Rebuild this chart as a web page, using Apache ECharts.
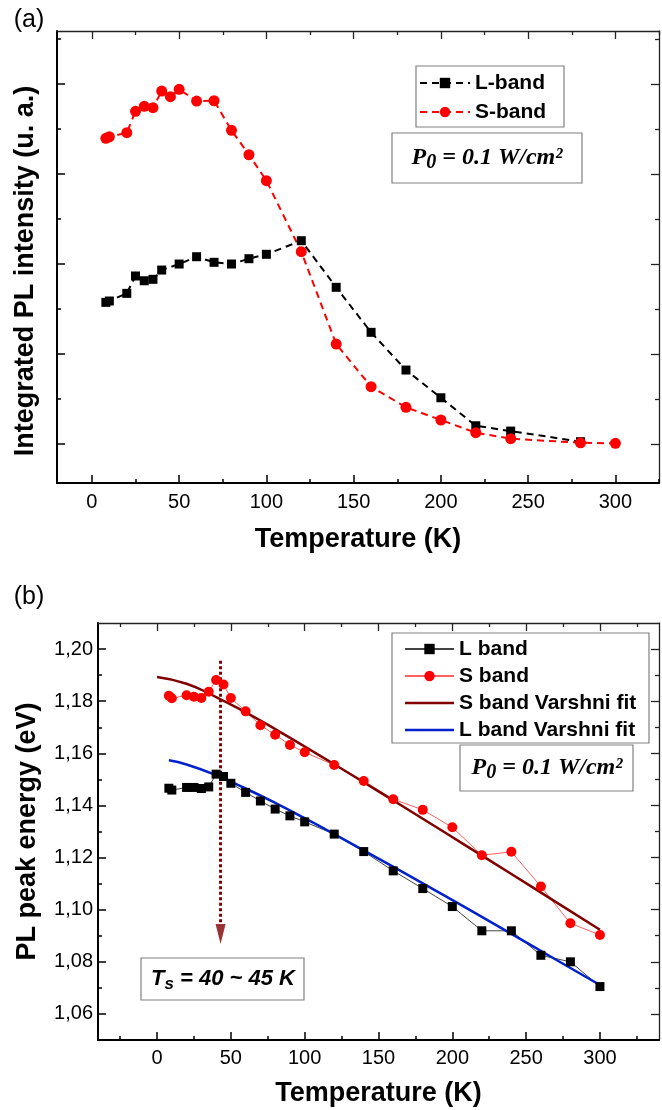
<!DOCTYPE html>
<html><head><meta charset="utf-8">
<script src="https://cdn.jsdelivr.net/npm/echarts@6/dist/echarts.min.js"></script>
<style>html,body{margin:0;padding:0;background:#fff}#c{width:662px;height:1110px}</style>
</head><body><div id="c"></div>
<script>
// ---------- (a) Integrated PL intensity ----------
const tempA_L = [8,10,20,25,30,35,40,50,60,70,80,90,100,120,140,160,180,200,220,240,280];
const intensL = [1.574,1.589,1.674,1.867,1.814,1.830,1.933,2.000,2.081,2.019,2.000,2.059,2.108,2.259,1.741,1.241,0.822,0.514,0.203,0.144,0.026];
const tempA_S = [8,10,20,25,30,35,40,45,50,60,70,80,90,100,120,140,160,180,200,220,240,280,300];
const intensS = [3.397,3.414,3.459,3.697,3.752,3.737,3.922,3.859,3.941,3.811,3.814,3.486,3.214,2.926,2.137,1.111,0.637,0.408,0.267,0.126,0.059,0.014,0.008];
// ---------- (b) PL peak energy ----------
const tempB = [8,10,20,25,30,35,40,45,50,60,70,80,90,100,120,140,160,180,200,220,240,260,280,300];
const energyL = [1.1466,1.1459,1.1469,1.1469,1.1465,1.1471,1.1520,1.1511,1.1485,1.1450,1.1417,1.1386,1.1360,1.1337,1.1290,1.1223,1.1149,1.1081,1.1012,1.0919,1.0919,1.0825,1.0800,1.0705];
const energyS = [1.1821,1.1811,1.1823,1.1817,1.1812,1.1836,1.1881,1.1864,1.1812,1.1761,1.1708,1.1671,1.1632,1.1604,1.1555,1.1494,1.1424,1.1383,1.1316,1.1209,1.1222,1.1089,1.0948,1.0903];
const fitT_S = [0,20,40,60,80,100,120,150,180,210,240,270,300];
const fitS = [1.1893,1.1867,1.1816,1.1757,1.1693,1.1626,1.1558,1.1454,1.1349,1.1243,1.1137,1.1030,1.0923];
const fitT_L = [8,20,40,60,80,100,120,150,180,210,240,270,300];
const fitL = [1.1573,1.1557,1.1516,1.1465,1.1410,1.1351,1.1290,1.1196,1.1101,1.1005,1.0907,1.0809,1.0711];
// arrow marking T_s
const arrowT = [43, 43];
const arrowE = [1.1955, 1.0945];
const arrowTip = [43, 1.0868];
// ---------- ticks ----------
const xMajor = [0,50,100,150,200,250,300];
const xLabels = ['0','50','100','150','200','250','300'];
const xMinorA = [25,75,125,175,225,275,325];
const xMinorB = [-25,25,75,125,175,225,275,325];
const yMajorA = [0,1,2,3,4];
const yMinorA = [0.5,1.5,2.5,3.5,4.5];
const yMajorB = [1.06,1.08,1.10,1.12,1.14,1.16,1.18,1.20];
const yLabelsB = ['1,06','1,08','1,10','1,12','1,14','1,16','1,18','1,20'];
const yMinorB = [1.07,1.09,1.11,1.13,1.15,1.17,1.19];

const SANS = "'Liberation Sans', Arial, sans-serif";
const SERIF = "'Liberation Serif', 'Times New Roman', serif";
const zip = (a, b) => a.map((v, i) => [v, b[i]]);

function axes(dim, grid, min, max, major, minor, labels, name, nameGap, labelMargin, namePad) {
  const pos = dim === 'x' ? ['bottom', 'top'] : ['left', 'right'];
  const fmt = v => {
    const i = major.findIndex(m => Math.abs(m - v) < 1e-6);
    return i >= 0 && labels ? labels[i] : '';
  };
  const base = { type: 'value', gridIndex: grid, min, max, splitLine: { show: false } };
  return [
    Object.assign({}, base, {
      position: pos[0], name, nameLocation: 'middle', nameGap, nameRotate: dim === 'y' ? 90 : 0,
      nameTextStyle: { fontFamily: SANS, fontWeight: 'bold', fontSize: 27, color: '#000', padding: namePad || 0 },
      axisLine: { show: true, onZero: false, lineStyle: { color: '#000', width: 2 } },
      axisTick: { show: true, inside: true, length: 8, customValues: major, lineStyle: { color: '#000', width: 1.5 } },
      axisLabel: { show: !!labels, customValues: major, formatter: fmt, margin: labelMargin, fontFamily: SANS, fontSize: 20, color: '#000' }
    }),
    Object.assign({}, base, {
      position: pos[0],
      axisLine: { show: false, onZero: false },
      axisTick: { show: true, inside: true, length: 4, customValues: minor, lineStyle: { color: '#000', width: 1.5 } },
      axisLabel: { show: false }
    }),
    Object.assign({}, base, {
      position: pos[1],
      axisLine: { show: true, onZero: false, lineStyle: { color: '#222', width: 1.3 } },
      axisTick: { show: true, inside: true, length: 8, customValues: major, lineStyle: { color: '#222', width: 1.3 } },
      axisLabel: { show: false }
    }),
    Object.assign({}, base, {
      position: pos[1],
      axisLine: { show: false, onZero: false },
      axisTick: { show: true, inside: true, length: 4, customValues: minor, lineStyle: { color: '#222', width: 1.3 } },
      axisLabel: { show: false }
    })
  ];
}

const xAxes = [].concat(
  axes('x', 0, -20, 325, xMajor, xMinorA, xLabels, 'Temperature (K)', 43, 9),
  axes('x', 1, -40, 340, xMajor, xMinorB, xLabels, 'Temperature (K)', 40, 8)
);
const yAxes = [].concat(
  axes('y', 0, -0.433, 4.589, yMajorA, yMinorA, null, 'Integrated PL intensity (u. a.)', 18, 8, [0, 28, 0, 0]),
  axes('y', 1, 1.05, 1.21, yMajorB, yMinorB, yLabelsB, 'PL peak energy (eV)', 57, 5)
);

const legendText = { fontFamily: SANS, fontWeight: 'bold', fontSize: 21, color: '#000', lineHeight: 22 };
const lineIcon = 'path://M0,0 L49,0 L49,2.5 L0,2.5 Z';
const p0Rich = {
  p: { fontFamily: SERIF, fontStyle: 'italic', fontWeight: 'bold', fontSize: 24, lineHeight: 30, fill: '#000', color: '#000' },
  s: { fontFamily: SERIF, fontStyle: 'italic', fontWeight: 'bold', fontSize: 20, lineHeight: 16, verticalAlign: 'bottom', fill: '#000', color: '#000' }
};
const tsRich = {
  t: { fontFamily: SANS, fontStyle: 'italic', fontWeight: 'bold', fontSize: 22, lineHeight: 28, fill: '#000', color: '#000' },
  s: { fontFamily: SANS, fontStyle: 'italic', fontWeight: 'bold', fontSize: 17, lineHeight: 14, verticalAlign: 'bottom', fill: '#000', color: '#000' }
};
const box = (x, y, w, h) => ({ type: 'rect', shape: { x, y, width: w, height: h }, style: { fill: '#fff', stroke: '#808080', lineWidth: 1.2 }, z: 0 });
const txt = (x, y, text, font) => ({ type: 'text', x, y, z: 10, style: { text, font, fill: '#000', align: 'center', verticalAlign: 'middle' } });
const richTxt = (x, y, text, rich) => ({ type: 'text', x, y, z: 10, style: { text, rich, fill: '#000', align: 'center', verticalAlign: 'middle' } });

const option = {
  animation: false,
  backgroundColor: '#fff',
  grid: [
    { left: 57, top: 31, width: 602, height: 452 },
    { left: 98, top: 623, width: 561, height: 417 }
  ],
  xAxis: xAxes,
  yAxis: yAxes,
  legend: [
    { orient: 'vertical', left: 419, top: 72, padding: 0, itemWidth: 50, itemHeight: 13, itemGap: 7,
      data: ['L-band', 'S-band'], textStyle: legendText, selectedMode: false },
    { orient: 'vertical', left: 404, top: 638, padding: 0, itemWidth: 49, itemHeight: 13, itemGap: 5,
      data: ['L band', 'S band',
             { name: 'S band Varshni fit', icon: lineIcon },
             { name: 'L band Varshni fit', icon: lineIcon }],
      textStyle: legendText, selectedMode: false }
  ],
  graphic: [
    box(416, 66, 148, 61),
    box(392, 133, 190, 50),
    box(392, 633, 257, 110),
    box(460, 745, 173, 46),
    box(141, 958, 163, 42),
    txt(29, 20, '(a)', "25px 'Liberation Sans', Arial, sans-serif"),
    txt(29, 597, '(b)', "25px 'Liberation Sans', Arial, sans-serif"),
    richTxt(487, 158, '{p|P}{s|0}{p| = 0.1 W/cm²}', p0Rich),
    richTxt(547, 768, '{p|P}{s|0}{p| = 0.1 W/cm²}', p0Rich),
    richTxt(223, 979, '{t|T}{s|s}{t| = 40 ~ 45 K}', tsRich)
  ],
  series: [
    { name: 'L-band', type: 'line', xAxisIndex: 0, yAxisIndex: 0, data: zip(tempA_L, intensL),
      symbol: 'rect', symbolSize: 9, itemStyle: { color: '#000' },
      lineStyle: { color: '#000', width: 2, type: [7, 5] } },
    { name: 'S-band', type: 'line', xAxisIndex: 0, yAxisIndex: 0, data: zip(tempA_S, intensS),
      symbol: 'circle', symbolSize: 11, itemStyle: { color: '#ff0000' },
      lineStyle: { color: '#ff0000', width: 2, type: [7, 5] } },
    { name: 'L band', type: 'line', xAxisIndex: 4, yAxisIndex: 4, data: zip(tempB, energyL),
      symbol: 'rect', symbolSize: 9, itemStyle: { color: '#000' },
      lineStyle: { color: '#444', width: 1 } },
    { name: 'S band', type: 'line', xAxisIndex: 4, yAxisIndex: 4, data: zip(tempB, energyS),
      symbol: 'circle', symbolSize: 10, itemStyle: { color: '#ff0000' },
      lineStyle: { color: '#ff6060', width: 1 } },
    { name: 'S band Varshni fit', type: 'line', xAxisIndex: 4, yAxisIndex: 4, data: zip(fitT_S, fitS),
      smooth: true, symbol: 'none', showSymbol: false, itemStyle: { color: '#800000' },
      lineStyle: { color: '#800000', width: 2.5 } },
    { name: 'L band Varshni fit', type: 'line', xAxisIndex: 4, yAxisIndex: 4, data: zip(fitT_L, fitL),
      smooth: true, symbol: 'none', showSymbol: false, itemStyle: { color: '#0022cc' },
      lineStyle: { color: '#0022cc', width: 2.5 } },
    { type: 'line', xAxisIndex: 4, yAxisIndex: 4, data: zip(arrowT, arrowE), symbol: 'none',
      lineStyle: { color: '#800000', width: 3, type: [3, 2.5] }, z: 3 },
    { type: 'scatter', xAxisIndex: 4, yAxisIndex: 4, data: [arrowTip],
      symbol: 'path://M0,0 L10,0 L5,20 Z', symbolSize: [10, 20], symbolOffset: [0, '-50%'],
      itemStyle: { color: '#800000' }, z: 3 }
  ]
};
const chart = echarts.init(document.getElementById('c'), null, { renderer: 'canvas' });
chart.setOption(option);
</script>
</body></html>
